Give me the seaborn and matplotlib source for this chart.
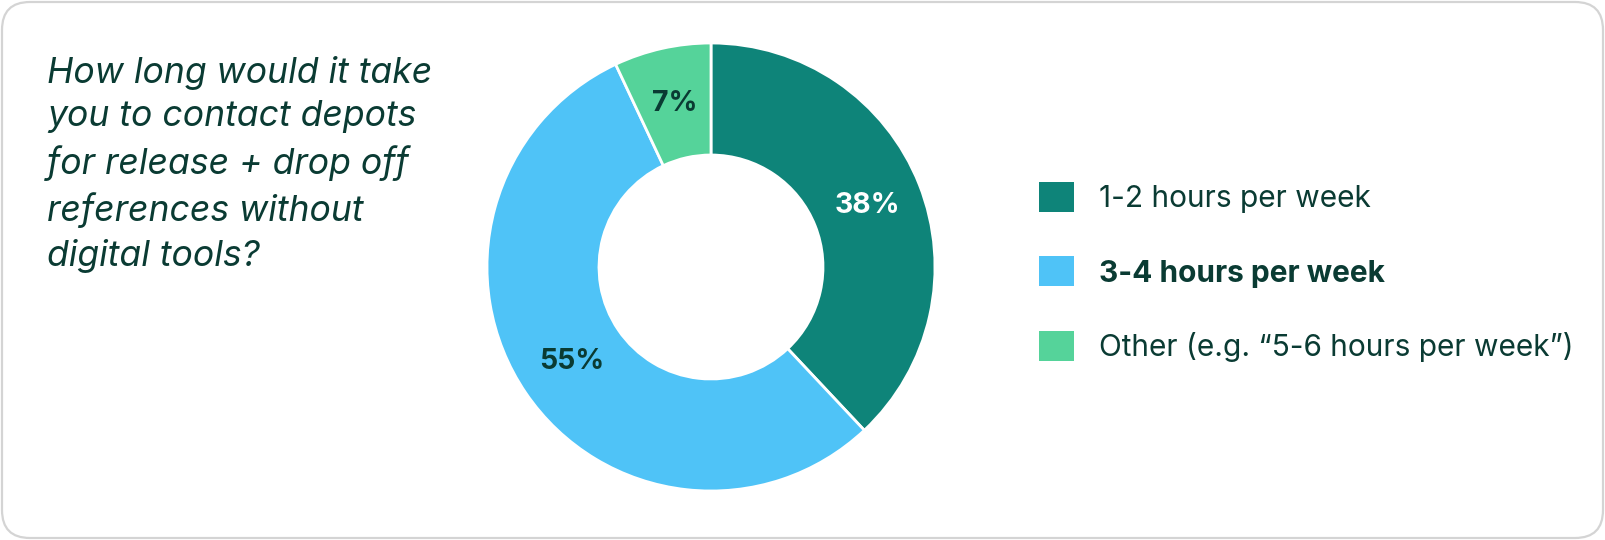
import matplotlib
matplotlib.use("Agg")
import matplotlib.pyplot as plt
from matplotlib.patches import Patch, FancyBboxPatch
import seaborn as sns

sns.set_style("white")
plt.rcParams['font.family'] = ['Inter', 'DejaVu Sans']

# data
categories = ["1-2 hours per week", "3-4 hours per week", "Other (e.g. \u201c5-6 hours per week\u201d)"]
shares = [38, 55, 7]
question = "How long would it take\nyou to contact depots\nfor release + drop off\nreferences without\ndigital tools?"

colors = sns.color_palette(["#0E8479", "#4FC3F7", "#55D39A"])
text_dark = "#0A3B33"

W, H = 1605, 540
fig = plt.figure(figsize=(W / 100, H / 100), dpi=100)

# rounded card border
card = FancyBboxPatch((0.02, 0.02), W / 100 - 0.04, H / 100 - 0.04,
                      boxstyle="round,pad=0,rounding_size=0.28",
                      transform=fig.dpi_scale_trans, facecolor="none",
                      edgecolor="#D4D4D4", linewidth=1.6, zorder=-1)
fig.patches.append(card)

# donut
cx, cy, r = 711, 273, 224
ax = fig.add_axes([(cx - r) / W, (cy - r) / H, 2 * r / W, 2 * r / H])
wedges, texts, autotexts = ax.pie(
    shares, colors=colors, startangle=90, counterclock=False,
    autopct="%.0f%%", pctdistance=0.75,
    wedgeprops=dict(width=0.5, edgecolor="white", linewidth=2))
ax.set_xlim(-1, 1)
ax.set_ylim(-1, 1)
ax.set_aspect("equal")
ax.axis("off")
for i, t in enumerate(autotexts):
    t.set_fontsize(20.5)
    t.set_fontweight("bold")
    t.set_color("white" if i == 0 else text_dark)

# question text
fig.text(47 / W, (H - 56) / H, question, fontsize=25.6, style="italic",
         color=text_dark, va="top", ha="left", linespacing=1.40)

# legend
handles = [Patch(facecolor=c, edgecolor="none", label=l) for c, l in zip(colors, categories)]
leg = fig.legend(handles=handles, loc="center left", bbox_to_anchor=(1039 / W, (H - 272) / H),
                 frameon=False, fontsize=21.5, handlelength=1.17, handleheight=1.17,
                 handletextpad=0.83, labelspacing=1.45, borderpad=0, borderaxespad=0)
for t in leg.get_texts():
    t.set_color(text_dark)
leg.get_texts()[1].set_fontweight("bold")

fig.savefig("out.png", dpi=100)
